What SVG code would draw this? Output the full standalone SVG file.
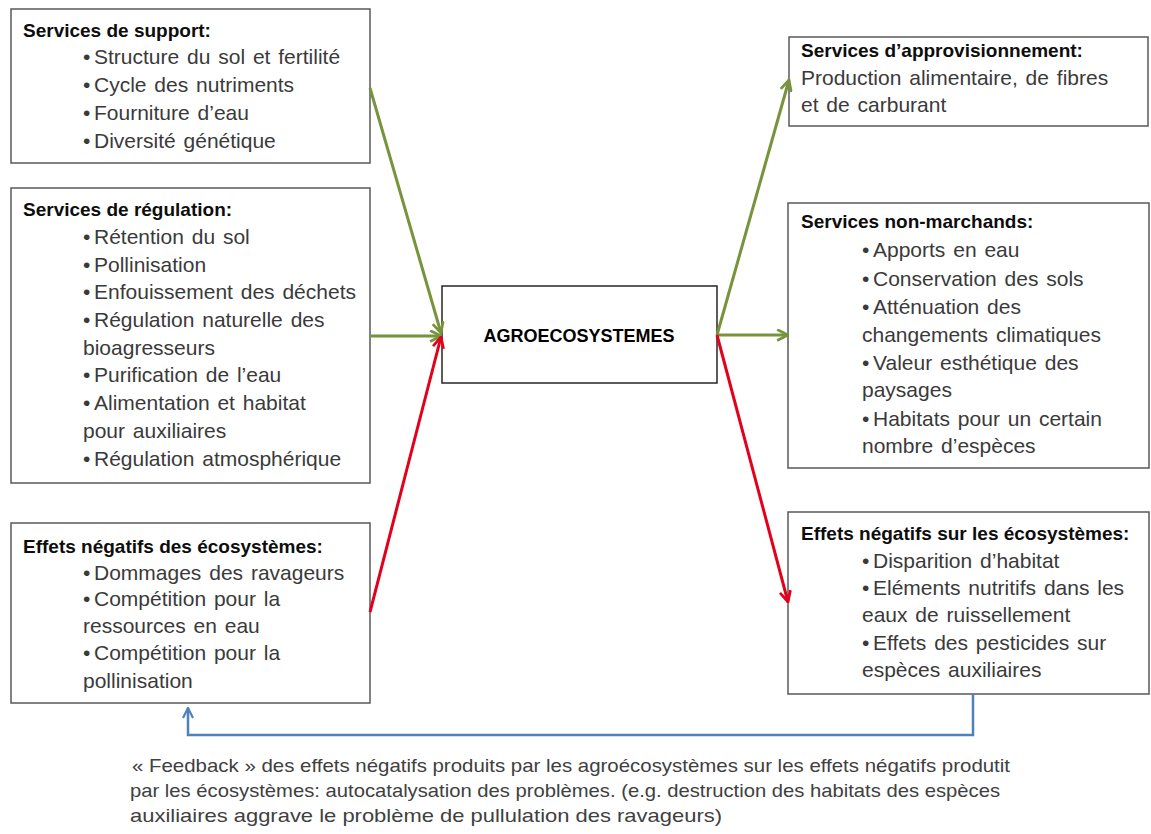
<svg xmlns="http://www.w3.org/2000/svg" width="1151" height="834" viewBox="0 0 1151 834">
<style>
.box{fill:#fff;stroke:#595959;stroke-width:1.5}
.cbox{fill:#fff;stroke:#262626;stroke-width:1.5}
.t{font-family:"Liberation Sans",Arial,sans-serif;font-size:19px;font-weight:bold;fill:#0d0d0d}
.b{font-family:"Liberation Sans",Arial,sans-serif;font-size:21px;word-spacing:2px;fill:#3a3a3a}
.c{font-family:"Liberation Sans",Arial,sans-serif;font-size:18px;font-weight:bold;fill:#000}
.cap{font-family:"Liberation Sans",Arial,sans-serif;font-size:18.5px;fill:#404040}
.g{stroke:#77933c;stroke-width:3;fill:none}
.r{stroke:#e3001b;stroke-width:3;fill:none}
.bl{stroke:#4f81bd;stroke-width:2.5;fill:none}
</style>
<defs>
<marker id="ag" viewBox="0 0 12 12" refX="11" refY="6" markerWidth="13" markerHeight="13" markerUnits="userSpaceOnUse" orient="auto"><path d="M1,1 L11,6 L1,11" fill="none" stroke="#77933c" stroke-width="2.5"/></marker>
<marker id="ar" viewBox="0 0 12 12" refX="11" refY="6" markerWidth="13" markerHeight="13" markerUnits="userSpaceOnUse" orient="auto"><path d="M1,1 L11,6 L1,11" fill="none" stroke="#e3001b" stroke-width="2.5"/></marker>
<marker id="ab" viewBox="0 0 12 12" refX="11" refY="6" markerWidth="12" markerHeight="12" markerUnits="userSpaceOnUse" orient="auto"><path d="M1,1 L11,6 L1,11" fill="none" stroke="#4f81bd" stroke-width="2.2"/></marker>
</defs>
<rect width="1151" height="834" fill="#fff"/>

<g id="support">
<rect class="box" x="11" y="9" width="359" height="154"/>
<text class="t" x="23" y="37">Services de support:</text>
<text class="b" y="64"><tspan x="83">•</tspan><tspan x="94">Structure du sol et fertilité</tspan></text>
<text class="b" y="92"><tspan x="83">•</tspan><tspan x="94">Cycle des nutriments</tspan></text>
<text class="b" y="120"><tspan x="83">•</tspan><tspan x="94">Fourniture d’eau</tspan></text>
<text class="b" y="148"><tspan x="83">•</tspan><tspan x="94">Diversité génétique</tspan></text>
</g>

<g id="regulation">
<rect class="box" x="11" y="188" width="359" height="295"/>
<text class="t" x="23" y="216">Services de régulation:</text>
<text class="b" y="244"><tspan x="83">•</tspan><tspan x="94">Rétention du sol</tspan></text>
<text class="b" y="272"><tspan x="83">•</tspan><tspan x="94">Pollinisation</tspan></text>
<text class="b" y="299"><tspan x="83">•</tspan><tspan x="94">Enfouissement des déchets</tspan></text>
<text class="b" y="327"><tspan x="83">•</tspan><tspan x="94">Régulation naturelle des</tspan></text>
<text class="b" x="83" y="355">bioagresseurs</text>
<text class="b" y="382"><tspan x="83">•</tspan><tspan x="94">Purification de l’eau</tspan></text>
<text class="b" y="410"><tspan x="83">•</tspan><tspan x="94">Alimentation et habitat</tspan></text>
<text class="b" x="83" y="438">pour auxiliaires</text>
<text class="b" y="466"><tspan x="83">•</tspan><tspan x="94">Régulation atmosphérique</tspan></text>
</g>

<g id="negatifs-ecosystemes">
<rect class="box" x="11" y="523" width="359" height="180"/>
<text class="t" x="23" y="553">Effets négatifs des écosystèmes:</text>
<text class="b" y="580"><tspan x="83">•</tspan><tspan x="94">Dommages des ravageurs</tspan></text>
<text class="b" y="606"><tspan x="83">•</tspan><tspan x="94">Compétition pour la</tspan></text>
<text class="b" x="83" y="633">ressources en eau</text>
<text class="b" y="660"><tspan x="83">•</tspan><tspan x="94">Compétition pour la</tspan></text>
<text class="b" x="83" y="688">pollinisation</text>
</g>

<g id="agroecosystemes">
<rect class="cbox" x="442" y="286" width="275" height="97"/>
<text class="c" x="579" y="342" text-anchor="middle">AGROECOSYSTEMES</text>
</g>

<g id="approvisionnement">
<rect class="box" x="789" y="37" width="359" height="89"/>
<text class="t" x="801" y="57">Services d’approvisionnement:</text>
<text class="b" x="801" y="85">Production alimentaire, de fibres</text>
<text class="b" x="801" y="112">et de carburant</text>
</g>

<g id="non-marchands">
<rect class="box" x="788" y="203" width="361" height="265"/>
<text class="t" x="801" y="228">Services non-marchands:</text>
<text class="b" y="257"><tspan x="862">•</tspan><tspan x="873">Apports en eau</tspan></text>
<text class="b" y="286"><tspan x="862">•</tspan><tspan x="873">Conservation des sols</tspan></text>
<text class="b" y="314"><tspan x="862">•</tspan><tspan x="873">Atténuation des</tspan></text>
<text class="b" x="862" y="342">changements climatiques</text>
<text class="b" y="370"><tspan x="862">•</tspan><tspan x="873">Valeur esthétique des</tspan></text>
<text class="b" x="862" y="397">paysages</text>
<text class="b" y="426"><tspan x="862">•</tspan><tspan x="873">Habitats pour un certain</tspan></text>
<text class="b" x="862" y="453">nombre d’espèces</text>
</g>

<g id="negatifs-sur">
<rect class="box" x="788" y="512" width="361" height="182"/>
<text class="t" x="801" y="540">Effets négatifs sur les écosystèmes:</text>
<text class="b" y="568"><tspan x="862">•</tspan><tspan x="873">Disparition d’habitat</tspan></text>
<text class="b" y="595"><tspan x="862">•</tspan><tspan x="873">Eléments nutritifs dans les</tspan></text>
<text class="b" x="862" y="622">eaux de ruissellement</text>
<text class="b" y="650"><tspan x="862">•</tspan><tspan x="873">Effets des pesticides sur</tspan></text>
<text class="b" x="862" y="677">espèces auxiliaires</text>
</g>

<g id="connectors">
<line class="g" x1="370" y1="88" x2="441" y2="333" marker-end="url(#ag)"/>
<line class="g" x1="370" y1="336" x2="441" y2="336" marker-end="url(#ag)"/>
<line class="r" x1="370" y1="612" x2="441" y2="337" marker-end="url(#ar)"/>
<line class="g" x1="717" y1="335" x2="789" y2="80" marker-end="url(#ag)"/>
<line class="g" x1="717" y1="335" x2="788" y2="335" marker-end="url(#ag)"/>
<line class="r" x1="717" y1="335" x2="788" y2="602" marker-end="url(#ar)"/>
<polyline class="bl" points="973,694 973,735 188,735 188,708" marker-end="url(#ab)"/>
</g>

<g id="caption">
<text class="cap" x="132" y="772" textLength="878" lengthAdjust="spacingAndGlyphs">« Feedback » des effets négatifs produits par les agroécosystèmes sur les effets négatifs  produtit</text>
<text class="cap" x="130" y="797" textLength="870" lengthAdjust="spacingAndGlyphs">par les écosystèmes:  autocatalysation des problèmes. (e.g. destruction des habitats des espèces</text>
<text class="cap" x="130" y="822" textLength="592" lengthAdjust="spacingAndGlyphs">auxiliaires aggrave le problème de pullulation  des ravageurs)</text>
</g>
</svg>
